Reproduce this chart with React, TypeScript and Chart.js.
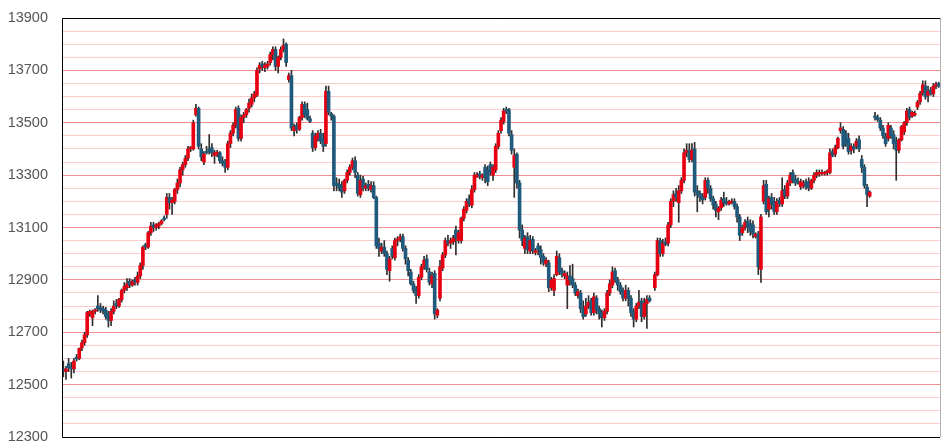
import React, { useEffect, useRef } from 'react';
import { Chart, registerables } from 'chart.js';

Chart.register(...registerables);

const opens: (number | null)[] = [
  12560,12550,12580,12565,12560,12605,12600,12640,12660,12690,
  12770,12755,12780,12800,12795,12790,12785,12770,12745,12780,
  12810,12800,12825,12860,12870,12895,12880,12900,12890,12915,
  12955,13035,13025,13080,13110,13100,13105,13115,13135,13150,
  13215,13195,13200,13245,13270,13320,13340,13365,13400,13400,
  13530,13555,13400,13350,13390,
  13400,13405,13375,13378,13385,13355,13350,13330,13420,13460,
  13490,13555,13440,13520,13530,13555,13570,13595,13605,13705,
  13725,13710,13715,13730,13760,13780,13715,13750,13780,13800,
  13665,13680,13470,13490,13475,13520,13570,13550,13515,13460,
  13405,13440,13460,13440,13420,13620,13535,13525,13270,13265,
  13260,13240,13280,13310,13330,13355,
  13300,13225,13285,13250,13265,13245,13260,13215,13040,13010,
  13025,13000,12935,13020,12985,13050,13055,13065,13020,12975,
  12930,12885,12865,12840,12910,12950,12980,12930,12885,12925,
  12765,12830,12945,12995,13050,13040,13045,13090,13050,13050,
  13135,13165,13210,13185,13245,13293,13305,13290,13330,13320,
  13340,13300,13320,13410,13470,
  13505,13550,13550,13455,13330,13380,13270,13090,13020,13065,
  13010,13055,13005,13030,13015,12990,12960,12965,12870,12860,
  12920,12985,12935,12915,12880,12915,12905,12880,12840,12850,
  12790,12770,12800,12820,12775,12830,12790,12775,12755,12780,
  12850,12880,12935,12900,12880,12860,12830,12860,12830,12780,
  12750,12800,12820,12760,12810,12830,
  null,
  12870,12920,13050,13000,13045,13040,13110,13200,13230,13195,
  13240,13280,13385,13395,13360,13400,13240,13230,13220,13215,
  13280,13250,13210,13190,13160,13175,13210,13200,13190,13195,
  13200,13180,13140,13080,13100,13125,13115,13110,13065,13075,
  12940,13200,13265,13170,13215,13200,13160,13205,13190,13245,
  13220,13270,13310,13285,13275,13255,13260,13275,13275,13250,
  13280,13300,13305,13305,13305,13310,13310,13390,13380,13405,
  13470,13475,13460,13440,13395,13410,13410,13435,13360,13330,
  13255,13220,
  null,
  13525,13520,13510,13480,13450,13440,13480,13455,13430,13395,
  13435,13465,13500,13550,13525,13530,13560,13580,13615,13640,
  13605,13625,13610,13640,13650,
];

const highs: (number | null)[] = [
  12590,12570,12600,12585,12600,12615,12640,12670,12700,12780,
  12785,12785,12790,12840,12810,12800,12795,12780,12790,12820,
  12825,12830,12865,12890,12905,12905,12900,12910,12930,12965,
  13030,13040,13085,13120,13120,13115,13120,13130,13145,13230,
  13230,13215,13250,13285,13330,13350,13375,13410,13410,13510,
  13570,13560,13420,13390,13410,
  13455,13420,13395,13395,13390,13370,13360,13430,13470,13500,
  13560,13565,13530,13540,13555,13590,13610,13620,13710,13730,
  13735,13730,13735,13770,13790,13790,13755,13790,13820,13805,
  13690,13700,13495,13500,13525,13580,13580,13575,13525,13470,
  13460,13470,13475,13460,13640,13640,13540,13530,13290,13285,
  13275,13285,13320,13340,13365,13370,
  13310,13300,13295,13270,13280,13275,13275,13220,13060,13040,
  13050,13010,12990,13030,13060,13065,13075,13075,13030,12985,
  12940,12895,12875,12920,12960,12990,12995,12945,12930,12935,
  12790,12975,13005,13060,13070,13060,13070,13105,13090,13140,
  13180,13210,13225,13260,13310,13310,13315,13305,13340,13335,
  13350,13340,13420,13470,13520,
  13555,13560,13555,13470,13400,13385,13280,13110,13070,13080,
  13070,13065,13020,13040,13030,13000,12985,12975,12910,12920,
  13010,13000,12945,12935,12930,12955,12960,12890,12865,12860,
  12820,12830,12840,12830,12850,12840,12800,12785,12790,12860,
  12900,12950,12945,12910,12890,12870,12880,12870,12840,12790,
  12810,12860,12830,12830,12840,12840,
  null,
  12930,13060,13060,13055,13060,13120,13210,13240,13250,13260,
  13290,13400,13420,13420,13420,13425,13260,13240,13230,13290,
  13290,13260,13220,13200,13180,13215,13235,13215,13205,13210,
  13210,13190,13150,13110,13130,13140,13130,13125,13080,13085,
  13150,13280,13280,13220,13230,13215,13210,13215,13290,13260,
  13280,13310,13320,13300,13290,13285,13280,13285,13290,13285,
  13310,13320,13320,13320,13315,13320,13400,13400,13415,13445,
  13500,13485,13470,13460,13420,13420,13440,13450,13375,13340,
  13265,13240,
  null,
  13540,13530,13520,13490,13460,13500,13490,13470,13445,13440,
  13490,13505,13555,13560,13545,13545,13585,13620,13660,13660,
  13640,13635,13650,13655,13655,
];

const lows: (number | null)[] = [
  12530,12520,12550,12525,12545,12590,12595,12630,12650,12680,
  12760,12725,12770,12780,12775,12770,12750,12720,12725,12770,
  12790,12795,12815,12850,12860,12870,12875,12880,12880,12905,
  12940,13015,13020,13070,13085,13090,13095,13110,13125,13135,
  13170,13150,13190,13230,13255,13300,13330,13355,13390,13395,
  13525,13400,13355,13340,13380,
  13380,13370,13345,13370,13345,13335,13310,13320,13405,13450,
  13480,13430,13430,13500,13520,13540,13560,13580,13600,13690,
  13700,13695,13705,13720,13740,13700,13690,13740,13770,13715,
  13655,13470,13450,13460,13470,13510,13520,13510,13500,13390,
  13395,13430,13420,13390,13410,13530,13510,13240,13240,13240,
  13215,13230,13270,13300,13320,13290,
  13220,13215,13240,13240,13240,13235,13210,13020,12990,13000,
  12990,12920,12895,12980,12975,13030,13045,13010,12960,12915,
  12880,12850,12810,12830,12900,12940,12930,12880,12870,12750,
  12755,12820,12935,12985,13030,13020,13035,12995,13040,13040,
  13125,13155,13180,13175,13235,13290,13285,13280,13270,13260,
  13300,13280,13310,13400,13460,
  13495,13535,13450,13380,13215,13250,13060,13030,13000,13000,
  13000,13000,12995,12995,12960,12955,12950,12855,12860,12840,
  12915,12920,12910,12905,12790,12880,12870,12840,12830,12775,
  12750,12760,12790,12765,12765,12770,12750,12720,12745,12770,
  12840,12870,12890,12860,12845,12820,12820,12800,12760,12720,
  12740,12790,12740,12750,12715,12815,
  null,
  12860,12915,12990,12990,13030,13030,13100,13180,13200,13120,
  13230,13270,13370,13350,13350,13220,13160,13200,13190,13205,
  13230,13200,13170,13140,13130,13165,13180,13185,13185,13190,
  13170,13120,13050,13070,13090,13080,13070,13060,13060,12920,
  12890,13190,13150,13140,13170,13150,13150,13180,13180,13210,
  13210,13260,13270,13260,13265,13245,13250,13245,13240,13245,
  13270,13290,13295,13300,13300,13300,13305,13370,13370,13400,
  13460,13400,13410,13380,13380,13385,13400,13390,13310,13250,
  13180,13215,
  null,
  13510,13505,13470,13440,13410,13430,13440,13400,13280,13385,
  13430,13455,13490,13510,13520,13525,13550,13570,13605,13590,
  13580,13605,13600,13630,13635,
];

const closes: (number | null)[] = [
  12550,12560,12565,12560,12590,12598,12638,12660,12690,12775,
  12780,12780,12785,12790,12785,12780,12760,12745,12780,12800,
  12800,12825,12860,12875,12885,12880,12895,12890,12915,12955,
  13025,13025,13080,13105,13100,13110,13115,13125,13130,13215,
  13195,13205,13245,13270,13320,13340,13365,13400,13405,13500,
  13555,13410,13370,13380,13385,
  13390,13385,13385,13388,13355,13345,13330,13420,13460,13490,
  13550,13440,13520,13530,13550,13575,13595,13610,13700,13720,
  13715,13720,13725,13760,13780,13715,13750,13780,13795,13730,
  13680,13480,13485,13475,13520,13570,13530,13515,13505,13405,
  13450,13460,13430,13410,13620,13540,13525,13260,13260,13250,
  13235,13280,13310,13330,13355,13310,
  13230,13280,13250,13260,13250,13260,13215,13030,13020,13025,
  13000,12940,12980,12990,13050,13055,13065,13020,12980,12935,
  12885,12860,12840,12910,12950,12975,12940,12890,12915,12770,
  12785,12950,12995,13050,13040,13050,13060,13060,13080,13135,
  13170,13200,13190,13245,13300,13302,13295,13300,13290,13275,
  13310,13330,13410,13460,13510,
  13545,13545,13460,13395,13375,13270,13090,13050,13060,13015,
  13050,13010,13012,13015,12985,12965,12975,12870,12900,12905,
  12990,12930,12920,12925,12915,12900,12880,12850,12855,12790,
  12760,12800,12815,12775,12835,12785,12770,12755,12780,12850,
  12885,12930,12900,12880,12855,12830,12860,12830,12775,12750,
  12800,12815,12760,12810,12825,12820,
  null,
  12920,13050,13000,13040,13035,13110,13200,13225,13215,13240,
  13280,13385,13395,13360,13395,13235,13225,13215,13205,13280,
  13250,13210,13185,13165,13175,13205,13195,13190,13200,13200,
  13180,13140,13070,13100,13120,13100,13085,13075,13075,12950,
  13140,13260,13160,13210,13190,13160,13200,13190,13240,13220,
  13270,13300,13280,13270,13270,13275,13270,13255,13250,13280,
  13300,13310,13310,13308,13310,13312,13385,13375,13405,13440,
  13480,13410,13420,13390,13410,13400,13430,13400,13330,13260,
  13225,13235,
  null,
  13520,13512,13480,13450,13420,13490,13450,13420,13395,13435,
  13485,13500,13545,13520,13540,13535,13578,13612,13645,13600,
  13620,13610,13640,13648,13640,
];

const Y_MIN = 12300;
const Y_MAX = 13900;
const Y_GRID_STEP = 50;
const Y_LABEL_STEP = 200;

const UP_COLOR = '#e60012';
const DOWN_COLOR = '#1f5a7c';
const WICK_COLOR = '#2e2e2e';

const frame = {
  id: 'frame',
  afterDatasetsDraw(chart: any) {
    const { ctx, chartArea: a } = chart;
    ctx.save();
    ctx.lineWidth = 1;
    ctx.strokeStyle = '#000';
    ctx.beginPath();
    ctx.moveTo(a.right, Math.floor(a.top) + 0.5);
    ctx.lineTo(Math.floor(a.left) + 0.5, Math.floor(a.top) + 0.5);
    ctx.lineTo(Math.floor(a.left) + 0.5, Math.floor(a.bottom) + 0.5);
    ctx.lineTo(a.right, Math.floor(a.bottom) + 0.5);
    ctx.stroke();
    ctx.strokeStyle = '#b0b0b0';
    ctx.beginPath();
    ctx.moveTo(Math.floor(a.right) + 0.5, a.top);
    ctx.lineTo(Math.floor(a.right) + 0.5, a.bottom);
    ctx.stroke();
    ctx.restore();
  },
};

export default function App() {
  const ref = useRef<HTMLCanvasElement>(null);
  useEffect(() => {
    if (!ref.current) return;
    const labels = opens.map((_, i) => String(i + 1));
    const bodies = opens.map((o, i) => (o == null ? null : [o, closes[i] as number]));
    const wicks = opens.map((o, i) => (o == null ? null : [lows[i] as number, highs[i] as number]));
    const colors = opens.map((o, i) => (o != null && (closes[i] as number) >= o ? UP_COLOR : DOWN_COLOR));
    const chart = new Chart(ref.current, {
      type: 'bar',
      data: {
        labels,
        datasets: [
          {
            data: bodies as any,
            backgroundColor: colors,
            barThickness: 3,
            minBarLength: 1.5,
            grouped: false,
            order: 0,
          } as any,
          {
            data: wicks as any,
            backgroundColor: WICK_COLOR,
            barThickness: 1,
            grouped: false,
            order: 1,
          } as any,
        ],
      },
      options: {
        animation: false,
        responsive: false,
        maintainAspectRatio: false,
        layout: { padding: { top: 18, right: 3, bottom: 6, left: 0 } },
        plugins: { legend: { display: false }, tooltip: { enabled: false } },
        scales: {
          x: { display: false },
          y: {
            min: Y_MIN,
            max: Y_MAX,
            afterBuildTicks: (s: any) => {
              const t = [];
              for (let v = Y_MIN; v <= Y_MAX; v += Y_GRID_STEP) t.push({ value: v });
              s.ticks = t;
            },
            afterFit: (s: any) => {
              s.width = 62;
              s.paddingTop = 0;
              s.paddingBottom = 0;
            },
            ticks: {
              autoSkip: false,
              padding: 14,
              color: '#555',
              font: { family: '"Liberation Sans", Arial, sans-serif', size: 14.5 },
              callback: (v: any) => ((v - Y_MIN) % Y_LABEL_STEP === 0 ? String(v) : ''),
            },
            grid: {
              drawTicks: false,
              color: (c: any) =>
                c.tick && (c.tick.value - Y_MIN) % Y_LABEL_STEP === 0 ? '#f28e8e' : '#fccccc',
            },
            border: { display: false },
          },
        },
      },
      plugins: [frame],
    } as any);
    return () => chart.destroy();
  }, []);
  return (
    <div style={{ position: 'absolute', left: 0, top: 0, width: 943, height: 443, background: '#fff' }}>
      <canvas ref={ref} width={943} height={443} style={{ width: 943, height: 443, display: 'block' }} />
    </div>
  );
}
